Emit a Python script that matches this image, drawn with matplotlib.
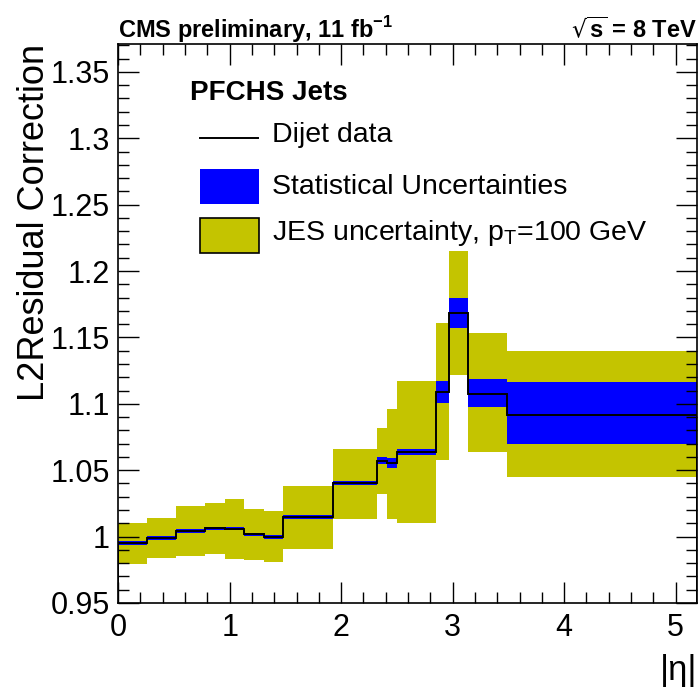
import matplotlib.pyplot as plt
import numpy as np
from matplotlib.patches import Rectangle
from matplotlib.lines import Line2D
from matplotlib.ticker import MultipleLocator, FuncFormatter

plt.rcParams['font.family'] = ['Liberation Sans', 'DejaVu Sans']

# bin edges in |eta|
eta_edges = [0, 0.261, 0.522, 0.783, 0.957, 1.131, 1.305, 1.479, 1.93,
             2.322, 2.411, 2.5, 2.853, 2.964, 3.139, 3.489, 5.191]
# dijet data (central value)
corr = [0.995, 0.999, 1.0042, 1.0062, 1.006, 1.0017, 1.0, 1.0148, 1.0404,
        1.057, 1.0557, 1.064, 1.109, 1.1686, 1.1077, 1.0916]
# statistical band
stat_lo = [0.9935, 0.9978, 1.003, 1.005, 1.0048, 1.0005, 0.9985, 1.0135, 1.039,
           1.0547, 1.0514, 1.0614, 1.1008, 1.1573, 1.0978, 1.0696]
stat_hi = [0.9965, 1.0002, 1.0054, 1.0074, 1.0072, 1.003, 1.0015, 1.016, 1.0418,
           1.0597, 1.059, 1.0657, 1.1174, 1.1797, 1.1185, 1.1163]
# JES uncertainty band, pT = 100 GeV
jes_lo = [0.979, 0.984, 0.9854, 0.987, 0.983, 0.982, 0.9806, 0.991, 1.0135,
          1.032, 1.0135, 1.010, 1.0577, 1.1214, 1.0637, 1.0451]
jes_hi = [1.0105, 1.0138, 1.0228, 1.025, 1.0285, 1.021, 1.019, 1.0383, 1.066,
          1.082, 1.096, 1.1174, 1.161, 1.2149, 1.153, 1.140]

yellow = '#c4c400'
blue = '#0000ff'

edges = np.array(eta_edges)
left = edges[:-1]
width = np.diff(edges)

fig = plt.figure(figsize=(6.99, 6.91), dpi=100)
ax = fig.add_axes([0.169, 0.1274, 0.828, 0.8089])

ax.bar(left, np.array(jes_hi) - np.array(jes_lo), bottom=jes_lo, width=width,
       align='edge', color=yellow, linewidth=0)
ax.bar(left, np.array(stat_hi) - np.array(stat_lo), bottom=stat_lo, width=width,
       align='edge', color=blue, linewidth=0)
ax.stairs(corr, edges, color='black', linewidth=1.4)

ax.set_xlim(0, 5.191)
ax.set_ylim(0.95, 1.371)
ax.xaxis.set_major_locator(MultipleLocator(1))
ax.xaxis.set_minor_locator(MultipleLocator(0.2))
ax.yaxis.set_major_locator(MultipleLocator(0.05))
ax.yaxis.set_minor_locator(MultipleLocator(0.01))
ax.yaxis.set_major_formatter(FuncFormatter(lambda v, p: '%g' % round(v, 3)))
ax.tick_params(which='both', direction='in', top=True, right=True, labelsize=22, width=1)
ax.tick_params(which='major', length=15)
ax.tick_params(which='minor', length=8)
ax.tick_params(axis='x', pad=7)
ax.tick_params(axis='y', pad=6)
for s in ax.spines.values():
    s.set_linewidth(1.2)

ax.set_ylabel('L2Residual Correction', fontsize=26, loc='top', labelpad=-1)
ax.set_xlabel('|η|', fontsize=25, loc='right', labelpad=8)

fig.text(0.169, 0.945, 'CMS preliminary, 11 fb$^{\\mathregular{-1}}$', fontsize=17,
         fontweight='bold', ha='left', va='baseline')
fig.text(0.997, 0.945, '$\\sqrt{\\mathregular{s}}$ = 8 TeV', fontsize=17,
         fontweight='bold', ha='right', va='baseline')

# legend
tr = ax.transAxes
ax.text(0.124, 0.912, 'PFCHS Jets', transform=tr, fontsize=20, fontweight='bold',
        va='center')
ax.add_line(Line2D([0.142, 0.242], [0.832, 0.832], transform=tr, color='black', lw=1.4))
ax.text(0.266, 0.837, 'Dijet data', transform=tr, fontsize=20.5, va='center')
ax.add_patch(Rectangle((0.142, 0.714), 0.102, 0.063, transform=tr, color=blue, lw=0))
ax.text(0.266, 0.745, 'Statistical Uncertainties', transform=tr, fontsize=20.5, va='center')
ax.add_patch(Rectangle((0.142, 0.626), 0.102, 0.063, transform=tr, facecolor=yellow,
                       edgecolor='black', lw=1.2))
ax.text(0.266, 0.662, 'JES uncertainty, p$_{\\mathregular{T}}$=100 GeV', transform=tr,
        fontsize=20.5, va='center')

fig.savefig('out.png', dpi=100)
